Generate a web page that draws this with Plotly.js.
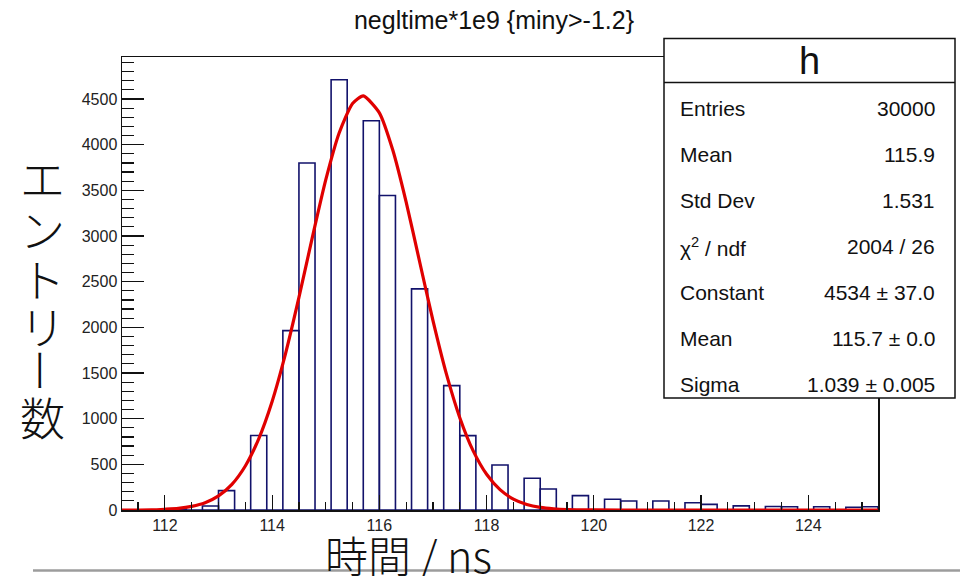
<!DOCTYPE html>
<html>
<head>
<meta charset="utf-8">
<script src="https://cdn.plot.ly/plotly-3.0.1.min.js"></script>
<style>html,body{margin:0;padding:0;background:#fff;}#chart{width:960px;height:576px;}</style>
</head>
<body>
<div id="chart"></div>
<script>
// ---- data ----
const binLow = 111.2;      // first bin lower edge
const binWidth = 0.3;      // histogram bin width
const counts = [0, 0, 0, 10, 0, 44, 212, 0, 815, 0,
                1964, 3799, 0, 4711, 0, 4262, 3444, 0, 2421, 0,
                1362, 814, 0, 493, 0, 347, 230, 0, 157, 0,
                117, 99, 0, 99, 0, 80, 62, 0, 45, 0,
                38, 35, 0, 35, 0, 30, 35];
const fitX = [111.2, 111.5, 111.75, 112.0, 112.25, 112.5, 112.75, 113.0, 113.25, 113.5,
              113.75, 114.0, 114.25, 114.5, 114.75, 115.0, 115.25, 115.5, 115.7, 116.0,
              116.25, 116.5, 116.75, 117.0, 117.25, 117.5, 117.75, 118.0, 118.25, 118.5,
              118.75, 119.0, 119.25, 119.5, 120.0, 121.0, 125.3];
const fitY = [0, 0, 1, 8, 18, 40, 80, 155, 281, 482,
              780, 1189, 1712, 2327, 2985, 3614, 4128, 4451, 4534, 4349,
              3941, 3371, 2721, 2073, 1490, 1011, 647, 391, 223, 120,
              61, 29, 13, 5, 1, 0, 0];
const xTickVals = [112, 114, 116, 118, 120, 122, 124];
const yTickVals = [0, 500, 1000, 1500, 2000, 2500, 3000, 3500, 4000, 4500];
const statLabels = ["Entries", "Mean", "Std Dev", "χ<sup>2</sup> / ndf", "Constant", "Mean", "Sigma"];
const statValues = ["30000", "115.9", "1.531", "2004 / 26", "4534 ± 37.0", "115.7 ± 0.0", "1.039 ± 0.005"];
const statTitle = "h";
const chartTitle = "negltime*1e9 {miny>-1.2}";
const xTitle = "時間 / ns";
const yTitleChars = ["エ", "ン", "ト", "リ", "ー", "数"];

// ---- layout geometry (pixels) ----
const W = 960, H = 576;
const L = 122, R = 878, T = 57, B = 510;
const px2x = p => (p - L) / (R - L);
const py2y = p => (B - p) / (B - T);

const binCenters = counts.map((c, i) => binLow + binWidth * (i + 0.5));

const hist = {
  type: 'bar', x: binCenters, y: counts, width: binWidth,
  marker: {color: 'rgba(0,0,0,0)', line: {color: '#12126b', width: 1.6}},
  hoverinfo: 'x+y', showlegend: false
};
const fit = {
  type: 'scatter', mode: 'lines', x: fitX, y: fitY,
  line: {color: '#e00000', width: 3.2, shape: 'spline', smoothing: 0.6},
  showlegend: false
};

const font = 'Liberation Sans, Arial, Helvetica, sans-serif';
const cjk = 'Noto Sans CJK JP, Noto Sans CJK SC, sans-serif';

const annotations = [];
// stats box title
annotations.push({xref: 'paper', yref: 'paper', x: px2x(809.5), y: py2y(61), text: statTitle,
  showarrow: false, xanchor: 'center', yanchor: 'middle', font: {family: font, size: 38, color: '#111'}});
const rowY = [108.5, 154.5, 200.5, 246.5, 292.5, 338, 384];
statLabels.forEach((t, i) => {
  annotations.push({xref: 'paper', yref: 'paper', x: px2x(678), y: py2y(rowY[i]), text: t,
    showarrow: false, xanchor: 'left', yanchor: 'middle', font: {family: font, size: 21, color: '#111'}});
  annotations.push({xref: 'paper', yref: 'paper', x: px2x(937), y: py2y(rowY[i]), text: statValues[i],
    showarrow: false, xanchor: 'right', yanchor: 'middle', font: {family: font, size: 21, color: '#111'}});
});
// y title, stacked vertically
const yCharY = [177, 228, 278, 326, 370, 416];
yTitleChars.forEach((c, i) => {
  annotations.push({xref: 'paper', yref: 'paper', x: px2x(42), y: py2y(yCharY[i]), text: c,
    showarrow: false, xanchor: 'center', yanchor: 'middle', textangle: c === 'ー' ? 90 : 0,
    font: {family: cjk, size: 45, color: '#111', weight: 300}});
});
// x title
annotations.push({xref: 'paper', yref: 'paper', x: px2x(408), y: py2y(554), text: xTitle,
  showarrow: false, xanchor: 'center', yanchor: 'middle',
  font: {family: cjk, size: 43, color: '#111', weight: 300}});

const shapes = [
  // slide separator line at the bottom
  {type: 'line', xref: 'paper', yref: 'paper', x0: px2x(33), x1: px2x(960), y0: py2y(570.5), y1: py2y(570.5),
   line: {color: '#9c9c9c', width: 2.5}, layer: 'below'},
  // stats box
  {type: 'rect', xref: 'paper', yref: 'paper', x0: px2x(664), x1: px2x(955), y0: py2y(398), y1: py2y(38.5),
   fillcolor: '#ffffff', line: {color: '#111', width: 1.5}, layer: 'above'},
  {type: 'line', xref: 'paper', yref: 'paper', x0: px2x(664), x1: px2x(955), y0: py2y(82.5), y1: py2y(82.5),
   line: {color: '#111', width: 1.5}, layer: 'above'}
];

const layout = {
  width: W, height: H,
  margin: {l: L, r: W - R, t: T, b: H - B, pad: 0},
  paper_bgcolor: '#fff', plot_bgcolor: '#fff',
  bargap: 0,
  title: {text: chartTitle, x: 494 / W, xref: 'container', xanchor: 'center',
          y: 1 - 20 / H, yref: 'container', yanchor: 'middle',
          font: {family: font, size: 25, color: '#111'}},
  xaxis: {range: [binLow, binLow + binWidth * counts.length], tickmode: 'array', tickvals: xTickVals,
          ticks: 'inside', ticklen: 15, tickwidth: 1.2, tickcolor: '#111',
          minor: {dtick: 0.5, tick0: 0, ticks: 'inside', ticklen: 8, tickwidth: 1.2, tickcolor: '#111', showgrid: false},
          showline: true, linecolor: '#111', linewidth: 1.5, mirror: true,
          showgrid: false, zeroline: false,
          tickfont: {family: font, size: 16, color: '#222'}},
  yaxis: {range: [0, 4960], tickmode: 'array', tickvals: yTickVals,
          ticks: 'inside', ticklen: 22, tickwidth: 1.2, tickcolor: '#111',
          minor: {dtick: 100, tick0: 0, ticks: 'inside', ticklen: 12, tickwidth: 1.2, tickcolor: '#111', showgrid: false},
          showline: true, linecolor: '#111', linewidth: 1.5, mirror: true,
          showgrid: false, zeroline: false,
          tickfont: {family: font, size: 16, color: '#222'}},
  annotations: annotations,
  shapes: shapes
};

Plotly.newPlot('chart', [hist, fit], layout, {staticPlot: true, displayModeBar: false});
</script>
</body>
</html>
